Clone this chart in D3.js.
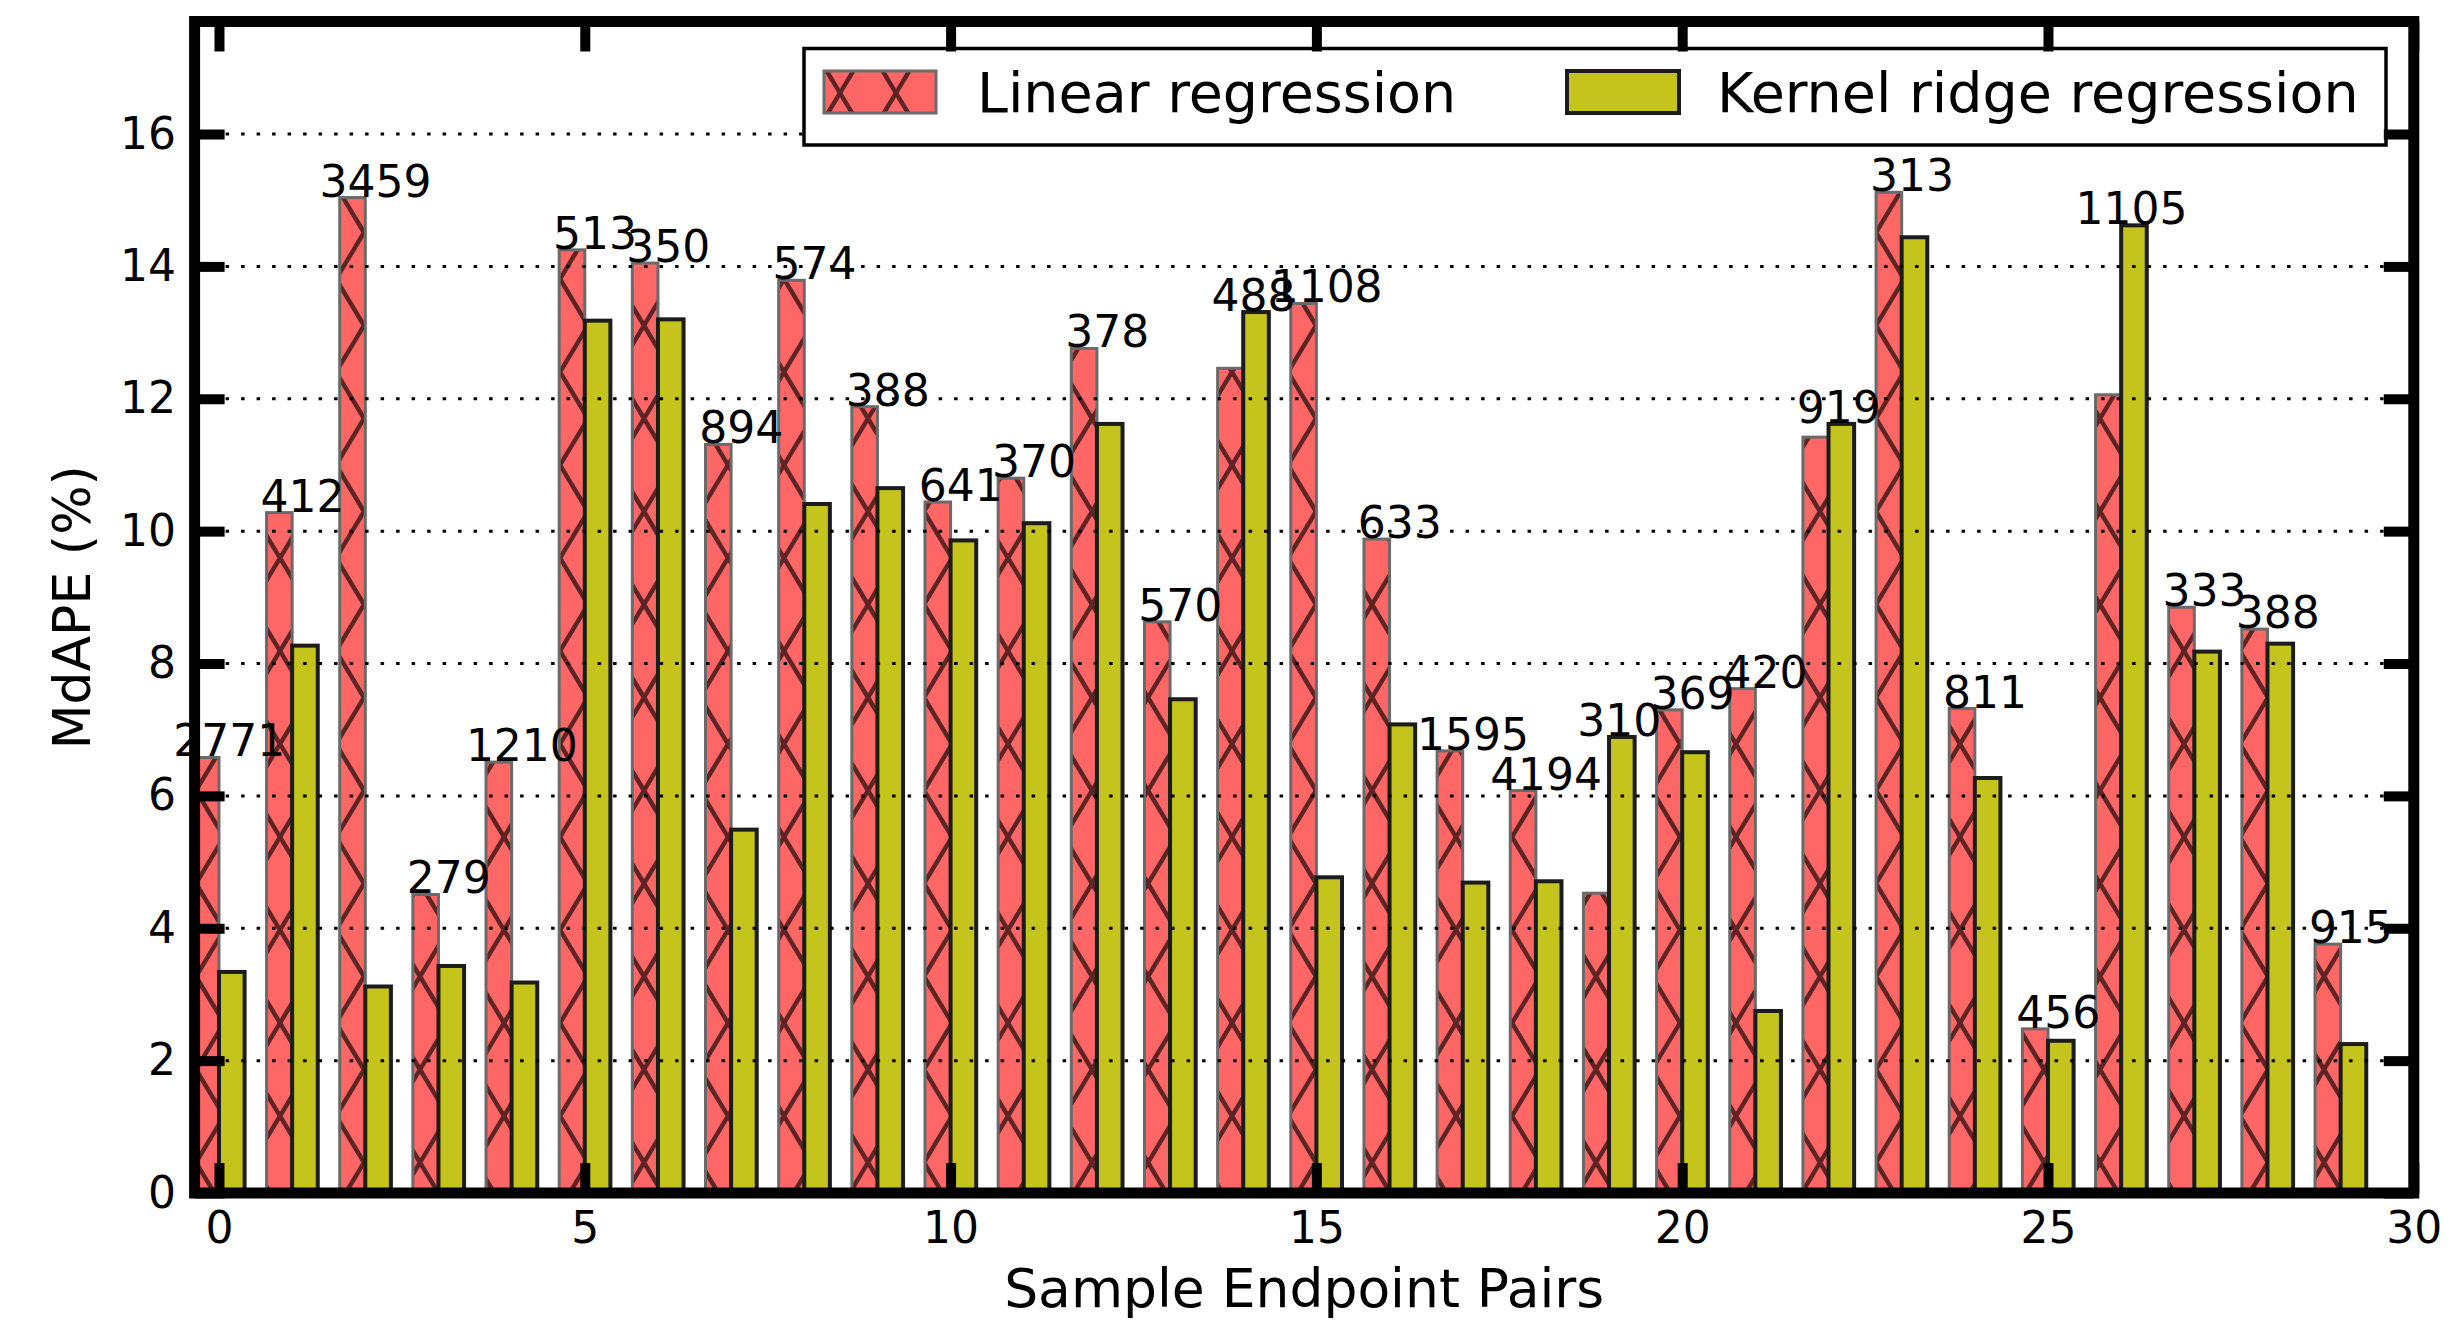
<!DOCTYPE html>
<html>
<head>
<meta charset="utf-8">
<script src="https://cdn.jsdelivr.net/npm/d3@7/dist/d3.min.js"></script>
<style>
  html, body { margin: 0; padding: 0; background: #fff; }
  svg { display: block; font-family: "DejaVu Sans", sans-serif; }
</style>
</head>
<body>
<svg id="chart" width="2453" height="1323"></svg>
<script>
// ---- data ----
const categories = [0,1,2,3,4,5,6,7,8,9,10,11,12,13,14,15,16,17,18,19,20,21,22,23,24,25,26,27,28,29];
const linearValues = [6.58,10.28,15.04,4.51,6.51,14.25,14.05,11.31,13.79,11.88,10.44,10.80,12.76,8.63,12.46,13.44,9.88,6.68,6.08,4.53,7.30,7.62,11.42,15.12,7.32,2.48,12.06,8.85,8.52,3.76];
const kernelValues = [3.34,8.27,3.12,3.43,3.18,13.18,13.20,5.49,10.41,10.65,9.86,10.12,11.62,7.46,13.31,4.77,7.08,4.69,4.71,6.89,6.66,2.75,11.62,14.44,6.27,2.30,14.62,8.18,8.30,2.25];
const sampleCounts = [2771,412,3459,279,1210,513,350,894,574,388,641,370,378,570,488,1108,633,1595,4194,310,369,420,919,313,811,456,1105,333,388,915];
const xTicks = [0,5,10,15,20,25,30];
const yTicks = [0,2,4,6,8,10,12,14,16];
const seriesNames = ["Linear regression", "Kernel ridge regression"];
const xDomain = [-1/3, 30];
const yDomain = [0, 17.7];

// ---- layout ----
const plot = {left: 194.6, right: 2413.8, top: 21.5, bottom: 1193};
const barW = 0.35;
const redFill = "#ff6666", greenFill = "#c4c41c";

const svg = d3.select("#chart");
const x = d3.scaleLinear().domain(xDomain).range([plot.left, plot.right]);
const y = d3.scaleLinear().domain(yDomain).range([plot.bottom, plot.top]);

const defs = svg.append("defs");
const pat = defs.append("pattern")
  .attr("id", "hatchX").attr("patternUnits", "userSpaceOnUse")
  .attr("width", 56).attr("height", 93);
pat.append("rect").attr("width", 56).attr("height", 93).attr("fill", redFill);
pat.append("path").attr("d", "M0,0L56,93M56,0L0,93M-28,-46.5L28,46.5M28,46.5L84,139.5M28,-46.5L-28,46.5M84,46.5L28,139.5")
  .attr("stroke", "#5e2424").attr("stroke-width", 4.5).attr("fill", "none");
defs.append("clipPath").attr("id", "plotClip").append("rect")
  .attr("x", plot.left).attr("y", plot.top)
  .attr("width", plot.right - plot.left).attr("height", plot.bottom - plot.top);

const g = svg.append("g").attr("clip-path", "url(#plotClip)");

// red bars (linear)
g.selectAll("rect.lin").data(categories).join("rect")
  .attr("class", "lin")
  .attr("x", i => x(i - barW))
  .attr("width", i => x(i) - x(i - barW))
  .attr("y", i => y(linearValues[i]))
  .attr("height", i => y(0) - y(linearValues[i]))
  .attr("fill", "url(#hatchX)")
  .attr("stroke", "#6a6a6a").attr("stroke-width", 3);

// green bars (kernel)
g.selectAll("rect.ker").data(categories).join("rect")
  .attr("class", "ker")
  .attr("x", i => x(i))
  .attr("width", i => x(i + barW) - x(i))
  .attr("y", i => y(kernelValues[i]))
  .attr("height", i => y(0) - y(kernelValues[i]))
  .attr("fill", greenFill)
  .attr("stroke", "#1c1c1c").attr("stroke-width", 4);

// dotted grid
g.selectAll("line.grid").data(yTicks).join("line")
  .attr("class", "grid")
  .attr("x1", plot.left).attr("x2", plot.right)
  .attr("y1", d => y(d)).attr("y2", d => y(d))
  .attr("stroke", "#000").attr("stroke-width", 3)
  .attr("stroke-dasharray", "3.5 12");

// bar labels
svg.append("g").selectAll("text").data(categories).join("text")
  .attr("x", i => x(i + 0.14))
  .attr("y", i => y(Math.max(linearValues[i], kernelValues[i])) - 1)
  .attr("text-anchor", "middle")
  .attr("font-size", 44)
  .attr("fill", "#000")
  .text(i => sampleCounts[i]);

// legend
const lg = svg.append("g");
lg.append("rect").attr("x", 804).attr("y", 48.5).attr("width", 1582).attr("height", 96.5)
  .attr("fill", "#fff").attr("stroke", "#000").attr("stroke-width", 3.5);
lg.append("rect").attr("x", 824).attr("y", 71).attr("width", 112).attr("height", 42)
  .attr("fill", "url(#hatchX)").attr("stroke", "#6a6a6a").attr("stroke-width", 3);
lg.append("rect").attr("x", 1567).attr("y", 71).attr("width", 112).attr("height", 42)
  .attr("fill", greenFill).attr("stroke", "#1c1c1c").attr("stroke-width", 4);
lg.append("text").attr("x", 977).attr("y", 112).attr("font-size", 55.5).text(seriesNames[0]);
lg.append("text").attr("x", 1717).attr("y", 112).attr("font-size", 55.5).text(seriesNames[1]);

// axes with inward ticks
function styleAxis(sel) {
  sel.select(".domain").remove();
  sel.selectAll(".tick line").attr("stroke", "#000").attr("stroke-width", 10);
  sel.selectAll(".tick text").attr("font-size", 44).attr("fill", "#000")
     .attr("font-family", "DejaVu Sans");
}
svg.append("g").attr("transform", `translate(${plot.left},0)`)
  .call(d3.axisLeft(y).tickValues(yTicks).tickSizeInner(-30).tickSizeOuter(0).tickPadding(18.6).tickFormat(d3.format("d")))
  .call(styleAxis);
svg.append("g").attr("transform", `translate(${plot.right},0)`)
  .call(d3.axisRight(y).tickValues(yTicks).tickSizeInner(-30).tickSizeOuter(0).tickFormat(() => ""))
  .call(styleAxis);
svg.append("g").attr("transform", `translate(0,${plot.bottom})`)
  .call(d3.axisBottom(x).tickValues(xTicks).tickSizeInner(-30).tickSizeOuter(0).tickPadding(18.8).tickFormat(d3.format("d")))
  .call(styleAxis);
svg.append("g").attr("transform", `translate(0,${plot.top})`)
  .call(d3.axisTop(x).tickValues(xTicks).tickSizeInner(-30).tickSizeOuter(0).tickFormat(() => ""))
  .call(styleAxis);

// spines
svg.append("rect")
  .attr("x", plot.left).attr("y", plot.top)
  .attr("width", plot.right - plot.left).attr("height", plot.bottom - plot.top)
  .attr("fill", "none").attr("stroke", "#000").attr("stroke-width", 11);

// axis titles
svg.append("text")
  .attr("x", (plot.left + plot.right) / 2).attr("y", 1307)
  .attr("text-anchor", "middle").attr("font-size", 53.5)
  .text("Sample Endpoint Pairs");
svg.append("text")
  .attr("transform", `translate(90,${(plot.top + plot.bottom) / 2}) rotate(-90)`)
  .attr("text-anchor", "middle").attr("font-size", 52)
  .text("MdAPE (%)");
</script>
</body>
</html>
